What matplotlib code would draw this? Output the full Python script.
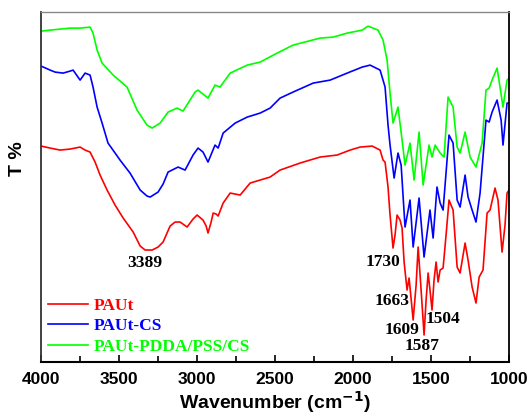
import numpy as np
import matplotlib
matplotlib.use('Agg')
from matplotlib import pyplot as plt

# wavenumber (cm-1) and transmittance (arb. units, curves stacked)
wn_paut = [4000, 3942, 3878, 3814, 3750, 3718, 3686, 3654, 3622, 3577, 3526, 3474, 3410, 3365,
           3333, 3288, 3250, 3218, 3173, 3141, 3109, 3064, 3026, 3000, 2962, 2942, 2930, 2910,
           2897, 2878, 2865, 2833, 2788, 2724, 2660, 2596, 2532, 2468, 2340, 2212, 2103, 2019,
           1955, 1878, 1827, 1808, 1795, 1776, 1763, 1744, 1731, 1718, 1699, 1686, 1673, 1654,
           1641, 1615, 1596, 1583, 1564, 1545, 1532, 1519, 1507, 1494, 1481, 1468, 1455, 1442,
           1423, 1404, 1385, 1359, 1333, 1314, 1282, 1263, 1237, 1212, 1192, 1167, 1141, 1122,
           1090, 1071, 1045, 1026, 1013, 1000]
t_paut = [216, 214, 212, 213, 215, 212, 210, 200, 187, 172, 157, 144, 130, 116,
          112, 112, 115, 120, 136, 140, 140, 135, 143, 147, 142, 136, 129, 140,
          149, 148, 146, 159, 169, 167, 179, 182, 185, 192, 199, 205, 207, 212,
          215, 216, 212, 202, 200, 175, 147, 114, 127, 147, 142, 134, 100, 72,
          84, 42, 77, 115, 72, 27, 62, 89, 72, 52, 82, 100, 80, 92,
          94, 127, 162, 152, 95, 89, 119, 102, 75, 59, 85, 92, 149, 152,
          174, 162, 110, 137, 169, 172]

wn_cs = [4000, 3942, 3910, 3859, 3814, 3795, 3750, 3718, 3686, 3667, 3641, 3609, 3571, 3494,
         3430, 3365, 3321, 3301, 3250, 3218, 3186, 3122, 3077, 3026, 2994, 2962, 2930, 2885,
         2865, 2833, 2756, 2679, 2596, 2532, 2468, 2385, 2256, 2147, 2038, 1942, 1891, 1827,
         1808, 1795, 1776, 1763, 1737, 1712, 1692, 1667, 1635, 1615, 1577, 1545, 1507, 1487,
         1462, 1442, 1423, 1385, 1359, 1333, 1314, 1282, 1263, 1237, 1212, 1186, 1148, 1128,
         1109, 1077, 1051, 1039, 1013, 1000]
t_cs = [296, 292, 290, 289, 291, 292, 282, 289, 287, 275, 255, 239, 219, 202,
        189, 172, 166, 165, 170, 178, 190, 195, 192, 207, 214, 210, 200, 217,
        214, 229, 239, 245, 249, 254, 264, 270, 279, 282, 289, 295, 297, 292,
        282, 275, 237, 217, 184, 209, 197, 135, 162, 115, 164, 105, 152, 124,
        175, 159, 152, 227, 219, 162, 155, 187, 165, 152, 140, 169, 242, 240,
        250, 262, 242, 217, 259, 259]

wn_lbl = [4000, 3942, 3878, 3814, 3750, 3686, 3667, 3641, 3609, 3538, 3449, 3385, 3321, 3288,
          3237, 3186, 3128, 3090, 3013, 2994, 2930, 2885, 2853, 2788, 2679, 2596, 2487, 2385,
          2212, 2128, 2038, 1942, 1904, 1840, 1808, 1782, 1763, 1744, 1712, 1686, 1667, 1635,
          1609, 1577, 1551, 1513, 1494, 1474, 1442, 1417, 1391, 1359, 1333, 1314, 1282, 1250,
          1212, 1173, 1148, 1128, 1109, 1077, 1058, 1039, 1013, 1000]
t_lbl = [331, 332, 333, 334, 334, 335, 329, 312, 299, 287, 275, 252, 237, 234,
         239, 250, 254, 251, 270, 272, 264, 277, 275, 289, 297, 300, 309, 317,
         324, 325, 329, 332, 336, 332, 322, 302, 269, 239, 255, 222, 197, 219,
         182, 230, 177, 217, 205, 217, 209, 205, 265, 255, 215, 209, 230, 205,
         195, 219, 272, 274, 282, 294, 275, 255, 282, 284]

names = ['PAUt', 'PAUt-CS', 'PAUt-PDDA/PSS/CS']
colors = ['#ff0000', '#0000ff', '#00ff00']

peak_labels = ['3389', '1730', '1663', '1609', '1504', '1587']
peak_pos = [(3333, 99), (1808, 100), (1750, 61), (1686, 32), (1423, 43), (1558, 16)]

fig = plt.figure(figsize=(5.27, 4.18), dpi=100)
ax = fig.add_axes([0.078, 0.134, 0.888, 0.837])

for wn, t, name, c in zip([wn_paut, wn_cs, wn_lbl], [t_paut, t_cs, t_lbl], names, colors):
    ax.plot(wn, t, color=c, lw=1.2, label=name)

for txt, (px, py) in zip(peak_labels, peak_pos):
    ax.text(px, py, txt, ha='center', va='center', fontsize=12.5,
            fontweight='bold', family='Liberation Serif')

ax.set_xlim(4000, 1000)
ax.set_ylim(0, 350)
ax.set_xticks(np.arange(4000, 999, -500))
ax.set_xticks(np.arange(3750, 1000, -500), minor=True)
ax.set_yticks([])
ax.tick_params(axis='x', which='both', direction='in', width=1.2, pad=7)
ax.tick_params(axis='x', which='major', length=5)
ax.tick_params(axis='x', which='minor', length=4)
for lab in ax.get_xticklabels():
    lab.set_fontsize(12.5)
    lab.set_fontweight('bold')
    lab.set_family('Liberation Sans')

ax.spines['bottom'].set_linewidth(1.5)
ax.spines['left'].set_linewidth(1.3)
ax.spines['left'].set_color('#333333')
ax.spines['right'].set_linewidth(1.3)
ax.spines['top'].set_linewidth(1.0)
ax.spines['top'].set_color('#888888')

ax.set_xlabel('Wavenumber (cm$^{\\mathbf{-1}}$)', fontsize=14, fontweight='bold',
              family='Liberation Sans', labelpad=2)
ax.set_ylabel('T %', fontsize=14, fontweight='bold', family='Liberation Sans')
ax.yaxis.set_label_coords(-0.032, 0.58)

leg = ax.legend(loc='lower left', bbox_to_anchor=(0.015, 0.02), frameon=False,
                handlelength=2.3, handletextpad=0.35, labelspacing=0.25,
                borderaxespad=0, borderpad=0,
                prop={'family': 'Liberation Serif', 'weight': 'bold', 'size': 12.5})
for txt, c in zip(leg.get_texts(), colors):
    txt.set_color(c)

fig.savefig('out.png', dpi=100)
